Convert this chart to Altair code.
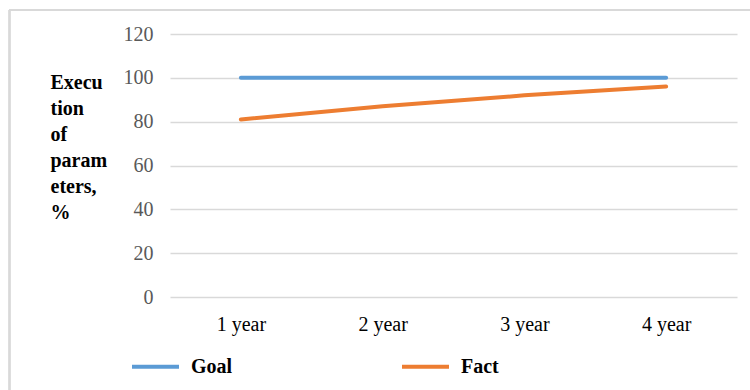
import altair as alt
import pandas as pd

categories = ["1 year", "2 year", "3 year", "4 year"]
goal = [100, 100, 100, 100]
fact = [81, 87, 92, 96]
series_names = ["Goal", "Fact"]
series_colors = ["#5B9BD5", "#ED7D31"]
y_ticks = [0, 20, 40, 60, 80, 100, 120]
y_title = ["Execu", "tion", "of", "param", "eters,", "%"]

rows = []
for c, g, f in zip(categories, goal, fact):
    rows.append({"year": c, "series": "Goal", "value": g})
    rows.append({"year": c, "series": "Fact", "value": f})
df = pd.DataFrame(rows)

SERIF = "Liberation Serif"

lines = alt.Chart(df).mark_line(strokeWidth=4, strokeCap="round").encode(
    x=alt.X("year:N", sort=categories,
            scale=alt.Scale(padding=0.5),
            axis=alt.Axis(title=None, labelAngle=0, domain=False, ticks=False,
                          grid=False, labelFont=SERIF, labelFontSize=20,
                          labelColor="#000000", labelPadding=17)),
    y=alt.Y("value:Q", scale=alt.Scale(domain=[0, 120], nice=False),
            axis=alt.Axis(values=y_ticks, title=y_title, titleAngle=0,
                          titleAlign="left", titleBaseline="top",
                          titleX=-120, titleY=38, titleFont=SERIF,
                          titleFontSize=20, titleFontWeight="bold",
                          titleColor="#000000", titleLineHeight=26,
                          domain=False, ticks=False, gridColor="#d9d9d9",
                          gridWidth=1.5, labelFont=SERIF, labelFontSize=20,
                          labelColor="#595959", labelPadding=17)),
    color=alt.Color("series:N", sort=series_names,
                    scale=alt.Scale(domain=series_names, range=series_colors),
                    legend=alt.Legend(title=None, orient="none", legendX=-40,
                                      legendY=307, direction="horizontal",
                                      symbolType="stroke", symbolSize=2209,
                                      symbolStrokeWidth=4, labelOffset=10,
                                      columnPadding=161, labelFont=SERIF,
                                      labelFontSize=20, labelFontWeight="bold",
                                      labelColor="#000000")),
)

border_top = alt.Chart(df).mark_rule(color="#d9d9d9", strokeWidth=1.5).encode(
    x=alt.value(-161), x2=alt.value(600), y=alt.value(-24))
border_left = alt.Chart(df).mark_rule(color="#d9d9d9", strokeWidth=1.5).encode(
    x=alt.value(-160.5), y=alt.value(-24), y2=alt.value(400))

chart = alt.layer(border_top, border_left, lines).properties(
    width=567, height=263,
    autosize=alt.AutoSizeParams(type="none"),
    padding={"left": 170, "top": 34, "right": 13, "bottom": 93},
).configure_view(stroke=None)

chart.save("out.html", embed_options={"renderer": "svg", "actions": False})
